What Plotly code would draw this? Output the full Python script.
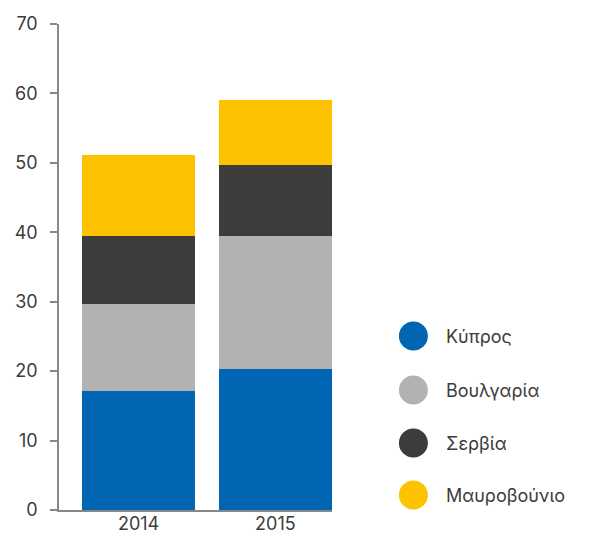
import plotly.graph_objects as go

years = ["2014", "2015"]
series_names = ["Κύπρος", "Βουλγαρία", "Σερβία", "Μαυροβούνιο"]
cyprus = [17.2, 20.3]
bulgaria = [12.5, 19.2]
serbia = [9.8, 10.2]
montenegro = [11.7, 9.4]
colors = ["#0066b3", "#b2b2b2", "#3c3c3b", "#fdc300"]
y_ticks = [0, 10, 20, 30, 40, 50, 60, 70]

values = [cyprus, bulgaria, serbia, montenegro]

# page is offset by the default 8px body margin
OFF = 8
W, H = 593 - OFF, 533 - OFF
# plot area in page pixels: x 59..331.7, y 24..510
L = 59 - OFF
T = 24 - OFF
pw = 331.7 - 59
ph = 510 - 24
R = W - L - pw
B = H - T - ph
FONT = "Inter"
TXT = "#3c3c3c"
FS = 18

fig = go.Figure()
for name, vals, col in zip(series_names, values, colors):
    fig.add_trace(go.Bar(x=years, y=vals, name=name, marker_color=col,
                         marker_line_width=0, showlegend=False))

# custom legend (large circles)
leg_y = [336, 390, 443, 495]
for name, col, py in zip(series_names, colors, leg_y):
    yp = (510 - py) / ph
    xc = (413 - 59) / pw
    fig.add_shape(type="circle", xref="paper", yref="paper",
                  xsizemode="pixel", ysizemode="pixel",
                  xanchor=xc, yanchor=yp, x0=-14.5, x1=14.5, y0=-14.5, y1=14.5,
                  fillcolor=col, line_width=0)
    fig.add_annotation(x=(446 - 59) / pw, y=yp, xref="paper", yref="paper",
                       text=name, showarrow=False, xanchor="left", yanchor="middle",
                       xshift=-2,
                       font=dict(family=FONT, size=FS, color=TXT))

fig.update_layout(
    barmode="stack",
    bargap=0.173,
    width=W, height=H,
    margin=dict(l=L, r=R, t=T, b=B, autoexpand=False),
    plot_bgcolor="white", paper_bgcolor="white",
    font=dict(family=FONT, size=FS, color=TXT),
    xaxis=dict(type="category", range=[-0.5815, 1.4135], showgrid=False,
               showline=True, linecolor="#878787", linewidth=1.5,
               ticks="", ticklabelstandoff=-3,
               tickfont=dict(size=FS, color=TXT), automargin=False),
    yaxis=dict(range=[0, 70], tickvals=y_ticks, showgrid=False, zeroline=False,
               showline=True, linecolor="#878787", linewidth=1.5,
               ticks="outside", ticklen=7, tickcolor="#878787", tickwidth=1.5,
               ticklabelstandoff=9,
               tickfont=dict(size=FS, color=TXT), automargin=False),
)

fig.write_html("out.html")
